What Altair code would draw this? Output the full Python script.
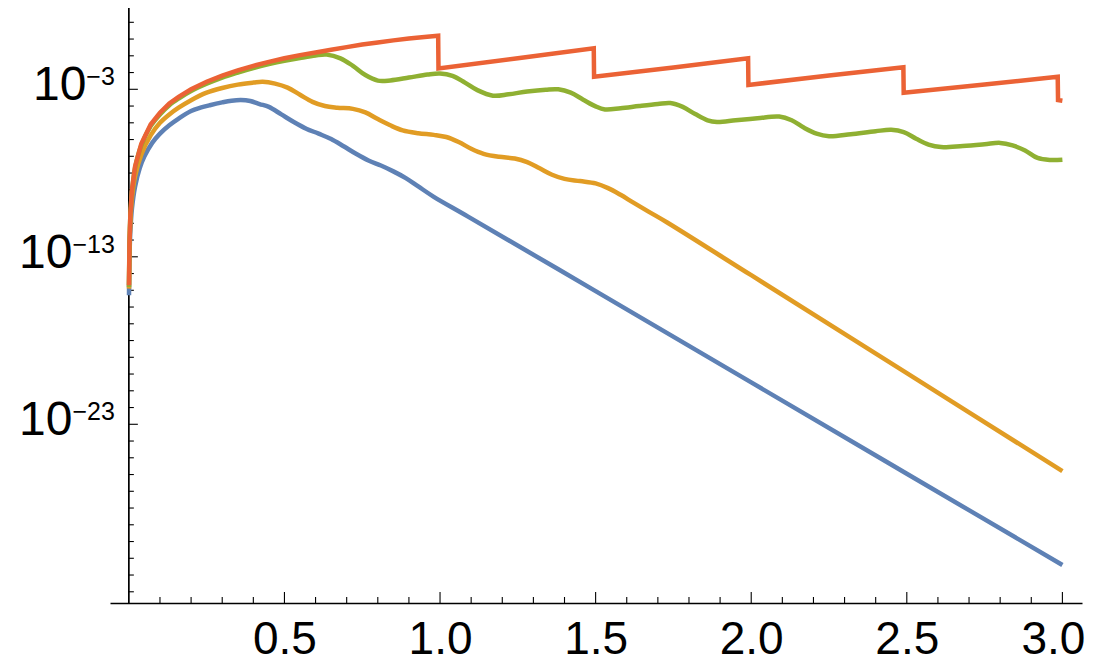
import altair as alt
import pandas as pd

FONT = "Liberation Sans"

# ---- series data: x values and log10(y) exponents ----
blue_x = [0.0005, 0.002, 0.005, 0.01, 0.02, 0.035, 0.05, 0.075, 0.1, 0.13,
          0.16, 0.2, 0.23, 0.26, 0.3, 0.33, 0.36, 0.39, 0.42, 0.45,
          0.49, 0.53, 0.57, 0.61, 0.65, 0.69, 0.73, 0.77, 0.81, 0.85,
          0.89, 0.93, 0.98, 1.09, 1.5, 2.0, 2.5, 3.0]
blue_e = [-15.3, -13.0, -11.4, -10.1, -8.8, -7.7, -7.0, -6.2, -5.65, -5.15,
          -4.75, -4.3, -4.1, -3.95, -3.78, -3.68, -3.64, -3.7, -3.88, -4.05,
          -4.5, -4.95, -5.35, -5.65, -5.97, -6.4, -6.85, -7.25, -7.55, -7.9,
          -8.3, -8.8, -9.42, -10.6, -15.05, -20.5, -25.95, -31.4]

orange_x = [0.0005, 0.002, 0.005, 0.01, 0.02, 0.04, 0.07, 0.1, 0.13, 0.16,
            0.2, 0.25, 0.3, 0.35, 0.4, 0.43, 0.47, 0.51, 0.55, 0.59,
            0.63, 0.67, 0.72, 0.76, 0.80, 0.84, 0.88, 0.93, 0.98, 1.02,
            1.06, 1.10, 1.14, 1.19, 1.24, 1.28, 1.32, 1.36, 1.40, 1.45,
            1.50, 1.54, 1.58, 1.62, 1.67, 1.73, 2.0, 2.5, 3.0]
orange_e = [-14.9, -12.5, -10.8, -9.5, -8.2, -6.9, -5.75, -5.0, -4.5, -4.1,
            -3.65, -3.2, -2.92, -2.72, -2.6, -2.55, -2.66, -2.9, -3.33, -3.75,
            -4.0, -4.1, -4.17, -4.38, -4.78, -5.15, -5.45, -5.62, -5.72, -5.85,
            -6.15, -6.55, -6.85, -7.03, -7.13, -7.35, -7.72, -8.1, -8.35, -8.48,
            -8.62, -8.9, -9.3, -9.75, -10.3, -10.95, -14.1, -19.95, -25.8]

green_x = [0.0005, 0.002, 0.005, 0.01, 0.02, 0.04, 0.07, 0.1, 0.13, 0.16,
           0.2, 0.25, 0.3, 0.35, 0.4, 0.45, 0.5, 0.55, 0.6, 0.636,
           0.68, 0.72, 0.76, 0.80, 0.84, 0.90, 0.96, 1.0, 1.04, 1.08,
           1.12, 1.17, 1.22, 1.28, 1.34, 1.38, 1.42, 1.46, 1.50, 1.53,
           1.58, 1.64, 1.70, 1.74, 1.78, 1.82, 1.86, 1.89, 1.95, 2.02,
           2.09, 2.13, 2.17, 2.21, 2.25, 2.32, 2.40, 2.45, 2.49, 2.53,
           2.57, 2.61, 2.68, 2.75, 2.80, 2.84, 2.88, 2.92, 2.96, 3.0]
green_e = [-14.8, -12.3, -10.5, -9.1, -7.7, -6.35, -5.2, -4.5, -3.95, -3.55,
           -3.1, -2.67, -2.3, -2.0, -1.73, -1.5, -1.3, -1.13, -0.98, -0.93,
           -1.15, -1.6, -2.15, -2.48, -2.47, -2.3, -2.12, -2.06, -2.2, -2.6,
           -3.05, -3.38, -3.3, -3.13, -3.02, -3.0, -3.2, -3.62, -4.02, -4.2,
           -4.13, -4.0, -3.88, -3.82, -4.05, -4.48, -4.85, -4.95, -4.85, -4.73,
           -4.63, -4.85, -5.3, -5.65, -5.8, -5.68, -5.5, -5.42, -5.55, -5.95,
           -6.3, -6.45, -6.38, -6.28, -6.2, -6.35, -6.65, -7.1, -7.22, -7.2]

red_x = [0.0005, 0.002, 0.005, 0.01, 0.02, 0.04, 0.07, 0.1, 0.13, 0.16,
         0.2, 0.25, 0.3, 0.35, 0.4, 0.45, 0.5, 0.55, 0.6, 0.65,
         0.7, 0.75, 0.8, 0.85, 0.9, 0.95, 0.994, 0.995, 1.25, 1.494,
         1.495, 1.75, 1.99, 1.991, 2.25, 2.489, 2.49, 2.75, 2.985, 2.986, 3.0]
red_e = [-14.7, -12.2, -10.4, -9.0, -7.6, -6.25, -5.1, -4.4, -3.85, -3.45,
         -3.0, -2.55, -2.18, -1.87, -1.6, -1.36, -1.15, -0.96, -0.8, -0.64,
         -0.48, -0.33, -0.2, -0.08, 0.03, 0.12, 0.2, -1.75, -1.15, -0.55,
         -2.25, -1.7, -1.15, -2.74, -2.18, -1.69, -3.2, -2.72, -2.25, -3.64, -3.68]

series = [
    ("blue", blue_x, blue_e, "#5E81B5", "catmull-rom"),
    ("orange", orange_x, orange_e, "#E19C24", "catmull-rom"),
    ("green", green_x, green_e, "#8FB032", "catmull-rom"),
    ("red", red_x, red_e, "#EB6235", "linear"),
]

# ---- axes ----
X_MIN, X_MAX = -0.0606, 3.063
E_MIN, E_MAX = -33.67, 1.854

x_label_vals = [0.5, 1.0, 1.5, 2.0, 2.5, 3.0]
x_minor_vals = [0.1, 0.2, 0.3, 0.4, 0.6, 0.7, 0.8, 0.9, 1.1, 1.2, 1.3, 1.4,
                1.6, 1.7, 1.8, 1.9, 2.1, 2.2, 2.3, 2.4, 2.6, 2.7, 2.8, 2.9]
y_major_exps = [-3, -13, -23]
y_minor_exps = [e for e in range(-33, 2) if e not in y_major_exps]

xscale = alt.Scale(domain=[X_MIN, X_MAX], nice=False, zero=False)
yscale = alt.Scale(type="log", domain=[10 ** E_MIN, 10 ** E_MAX], nice=False)

xaxis = alt.Axis(values=x_label_vals, format=".1f", ticks=False, tickSize=0,
                 domain=True, domainColor="black", domainWidth=1.7,
                 labelFont=FONT, labelFontSize=46, labelColor="black",
                 labelPadding=50, labelBaseline="alphabetic",
                 labelOffset={"condition": {"test": "datum.value >= 2.99", "value": -9.5},
                              "value": 0},
                 labelFlush=False, labelOverlap=False, grid=False, title=None)


def X(field):
    return alt.X(field, type="quantitative", scale=xscale, axis=xaxis)


def Y(field):
    return alt.Y(field, type="quantitative", scale=yscale, axis=None)


layers = []

# y axis line at x = 0
frame = pd.DataFrame({"x0": [0.0], "ylo": [10 ** E_MIN], "yhi": [10 ** E_MAX]})
layers.append(alt.Chart(frame).mark_rule(color="black", strokeWidth=1.7).encode(
    x=X("x0"), y=Y("ylo"), y2="yhi"))

# y ticks (pointing right, inside)
for exps, length in [(y_major_exps, 9), (y_minor_exps, 5)]:
    df = pd.DataFrame({"e": exps})
    layers.append(alt.Chart(df).transform_calculate(
        y="pow(10, datum.e)", x0="0").mark_rule(
        color="black", strokeWidth=1.1, x2Offset=length).encode(
        x=X("x0"), x2="x0", y=Y("y")))

# x ticks (pointing up, inside)
for vals, length in [(x_label_vals, 11), (x_minor_vals, 6)]:
    df = pd.DataFrame({"x": vals})
    layers.append(alt.Chart(df).transform_calculate(
        ylo=f"pow(10, {E_MIN})").mark_rule(
        color="black", strokeWidth=1.1, y2Offset=-length).encode(
        x=X("x"), y=Y("ylo"), y2="ylo"))

# y tick labels: 10 with superscript exponent
SUP_SIZE = 25
for e in y_major_exps:
    sup = "\u2212" + str(abs(e))
    sup_w = SUP_SIZE * (0.584 + 0.556 * len(str(abs(e))))
    df = pd.DataFrame({"e": [e]})
    base = alt.Chart(df).transform_calculate(y="pow(10, datum.e)", x0="0")
    layers.append(base.mark_text(text="10", font=FONT, fontSize=48, color="black",
                                 align="right", baseline="alphabetic",
                                 dx=-(14 + sup_w), dy=11).encode(x=X("x0"), y=Y("y")))
    layers.append(base.mark_text(text=sup, font=FONT, fontSize=SUP_SIZE, color="black",
                                 align="right", baseline="alphabetic",
                                 dx=-14, dy=-4).encode(x=X("x0"), y=Y("y")))

# curves
for name, xs, es, col, interp in series:
    df = pd.DataFrame({"x": xs, "e": es, "i": list(range(len(xs)))})
    layers.append(alt.Chart(df).transform_calculate(y="pow(10, datum.e)").mark_line(
        color=col, strokeWidth=4.5, clip=True, interpolate=interp).encode(
        x=X("x"), y=Y("y"), order="i:Q"))

chart = alt.layer(*layers).properties(
    width=972, height=595,
    padding={"left": 102, "top": 0, "right": 4, "bottom": 60},
    autosize="none",
).configure(background="white").configure_view(stroke=None)

chart.save("out.html", embed_options={"renderer": "svg", "actions": False})
